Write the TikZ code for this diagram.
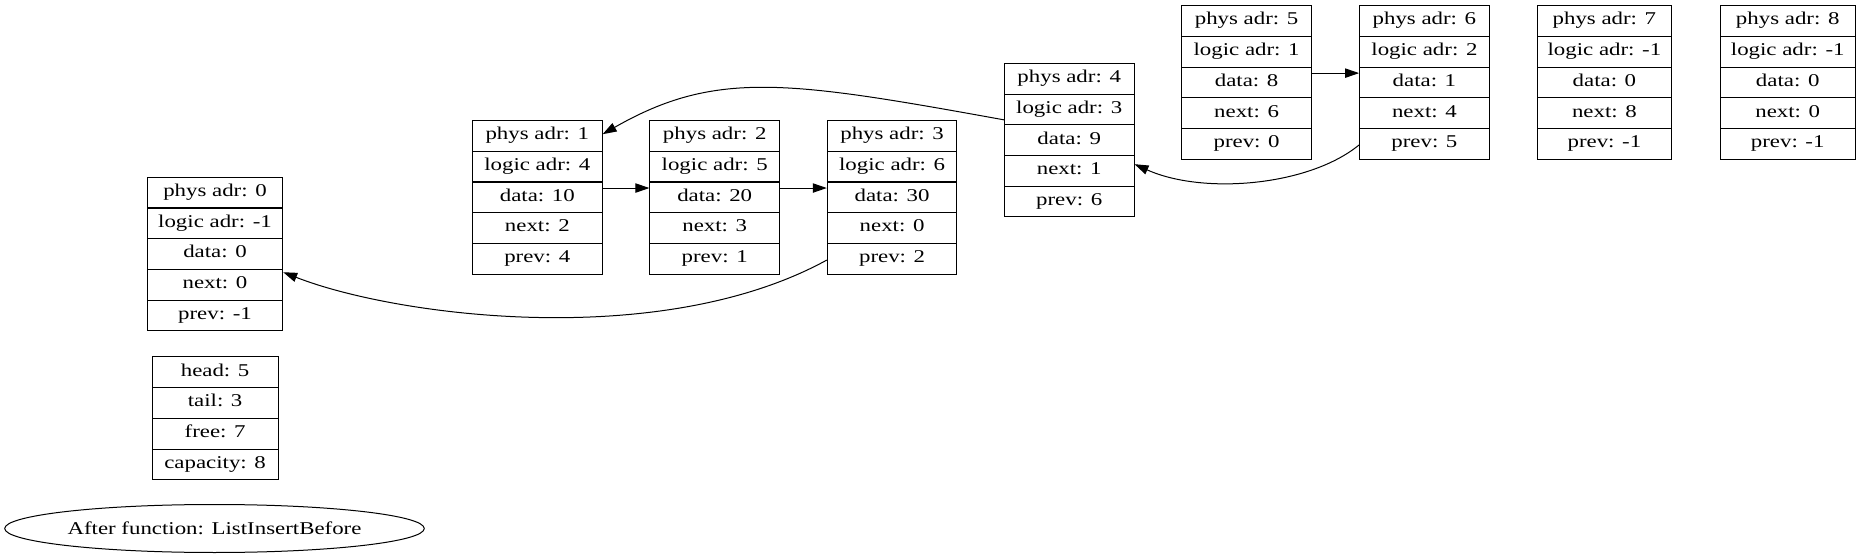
\documentclass[tikz,border=0pt]{standalone}
\usepackage{fontspec}
\setmainfont{Liberation Serif}[FakeStretch=1.27]
\usetikzlibrary{arrows.meta,shapes.geometric}
\newcommand\recbox[9]{%
  \node[field,minimum width={#4*0.75pt}] (#1r1) at (#2,#3+15.35) {#5};
  \node[field,minimum width={#4*0.75pt}] (#1r2) at (#2,#3+46.05) {#6};
  \node[field,minimum width={#4*0.75pt}] (#1r3) at (#2,#3+76.75) {#7};
  \node[field,minimum width={#4*0.75pt}] (#1r4) at (#2,#3+107.45) {#8};
  \node[field,minimum width={#4*0.75pt}] (#1r5) at (#2,#3+138.15) {#9};
}
\begin{document}
\begin{tikzpicture}[x=0.75pt,y=-0.75pt,
  field/.style={draw,line width=0.75pt,inner sep=0pt,minimum height=23.03pt,
    text height=0.68em,text depth=0.1em,font=\fontsize{13.5}{16}\selectfont},
  link/.style={line width=0.75pt,-{Triangle[length=10.5pt,width=7pt]}},
  title/.style={ellipse,draw,line width=0.75pt,inner sep=0pt,
    minimum width=314.7pt,minimum height=36pt,font=\fontsize{13.5}{16}\selectfont}]
\useasboundingbox (0,0) rectangle (1859,559);

\recbox{b0}{215}{177.3}{135.4}{phys adr: 0}{logic adr: -1}{data: 0}{next: 0}{prev: -1}
\recbox{b1}{537.3}{120.6}{129.6}{phys adr: 1}{logic adr: 4}{data: 10}{next: 2}{prev: 4}
\recbox{b2}{714.7}{120.6}{129.6}{phys adr: 2}{logic adr: 5}{data: 20}{next: 3}{prev: 1}
\recbox{b3}{892.1}{120.6}{129.6}{phys adr: 3}{logic adr: 6}{data: 30}{next: 0}{prev: 2}
\recbox{b4}{1069.2}{63.4}{129.6}{phys adr: 4}{logic adr: 3}{data: 9}{next: 1}{prev: 6}
\recbox{b5}{1246.6}{5.7}{129.6}{phys adr: 5}{logic adr: 1}{data: 8}{next: 6}{prev: 0}
\recbox{b6}{1424.4}{5.7}{129.6}{phys adr: 6}{logic adr: 2}{data: 1}{next: 4}{prev: 5}
\recbox{b7}{1604.4}{5.7}{134.8}{phys adr: 7}{logic adr: -1}{data: 0}{next: 8}{prev: -1}
\recbox{b8}{1787.7}{5.7}{135.3}{phys adr: 8}{logic adr: -1}{data: 0}{next: 0}{prev: -1}

\node[field,minimum width=94.35pt] (s1) at (215.1,372.3) {head: 5};
\node[field,minimum width=94.35pt] (s2) at (215.1,403.05) {tail: 3};
\node[field,minimum width=94.35pt] (s3) at (215.1,433.8) {free: 7};
\node[field,minimum width=94.35pt] (s4) at (215.1,464.55) {capacity: 8};

\node[title] (caption) at (214.5,528.5) {After function: ListInsertBefore};

\draw[link] ([yshift=-4.9pt]b1r3.north east) -- ([yshift=-4.9pt]b2r3.north west);
\draw[link] ([yshift=-4.9pt]b2r3.north east) -- ([yshift=-4.9pt]b3r3.north west);
\draw[link] ([yshift=-4.9pt]b5r3.north east) -- ([yshift=-4.9pt]b6r3.north west);
\draw[link] ([yshift=-1pt]b3r5.west) .. controls +(-166.6,91.2) and +(111.6,43.9) .. ([yshift=-2.5pt]b0r4.north east);
\draw[link] ([yshift=4.1pt]b4r2.south west) .. controls +(-216.5,-39.2) and +(112.8,-64.5) .. ([yshift=1.3pt]b1r1.east);
\draw[link] ([yshift=-0.8pt]b6r5.west) .. controls +(-50.2,41.2) and +(68.4,30.8) .. ([yshift=5pt]b4r4.east);
\end{tikzpicture}
\end{document}
